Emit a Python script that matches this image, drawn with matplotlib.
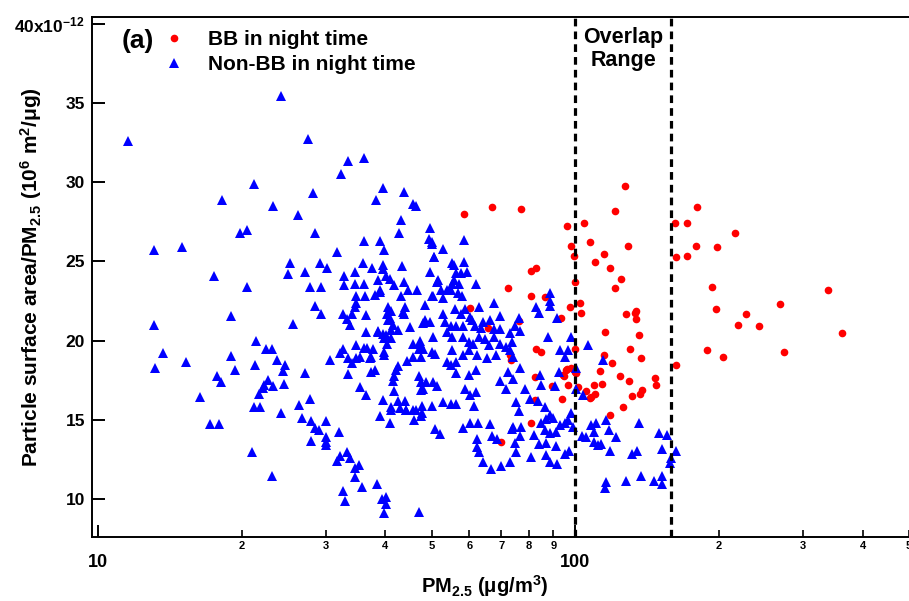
import matplotlib
matplotlib.use("Agg")
import matplotlib.pyplot as plt
from matplotlib.ticker import FixedLocator, FixedFormatter, FuncFormatter
from matplotlib.transforms import blended_transform_factory

plt.rcParams["font.family"] = ["Liberation Sans", "DejaVu Sans"]
plt.rcParams["font.weight"] = "bold"
plt.rcParams["axes.labelweight"] = "bold"
plt.rcParams["mathtext.fontset"] = "custom"
plt.rcParams["mathtext.rm"] = "Liberation Sans:bold"
plt.rcParams["mathtext.bf"] = "Liberation Sans:bold"
plt.rcParams["mathtext.default"] = "rm"

# BB in night time: PM2.5 (ug/m3), surface area / PM2.5 (x1e-12)
bb_pm = [58.4, 67.0, 76.9, 96.0, 104.1, 121.3, 127.3, 97.9, 99.3, 107.1, 114.6, 110.1,
         118.4, 128.9, 124.4, 121.3, 99.7, 162, 171.6, 179.7, 162.2, 171.3, 179.4, 197.6,
         216.2, 193.2, 338.6, 80.9, 82.8, 72.3, 80.9, 86.2, 102.5, 97.7, 133.8, 269, 197.2,
         228, 218.9, 242.2, 362, 188.6, 204.3, 273.4, 162.5, 127.9, 133.6, 134.2, 135.9,
         115.2, 130.4, 137.6, 114.8, 119.1, 112.5, 123.8, 129.3, 113.9, 109.4, 105.5, 110.1,
         108.0, 131.7, 136.5, 138.1, 147.1, 147.5, 125.6, 118.0, 102.9, 99.7, 100.1, 96.0,
         94.2, 96.5, 101.3, 93.9, 89.5, 84.9, 82.7, 82.3, 82.3, 80.9, 93.5, 76.2, 72.9, 73.5,
         65.7, 69.8, 60.3, 95.7, 98.0, 99.7, 94.6, 107.6]
bb_ratio = [28.0, 28.4, 28.3, 27.2, 27.45, 28.2, 29.75, 25.95, 25.35, 26.2, 25.45, 24.97,
            24.6, 25.95, 23.86, 23.3, 23.67, 27.4, 27.4, 28.4, 25.3, 25.35, 25.95, 25.88,
            26.76, 23.4, 23.19, 24.39, 24.6, 23.3, 22.8, 22.77, 22.4, 22.15, 21.9, 22.29, 21.97,
            21.68, 20.98, 20.9, 20.5, 19.39, 18.97, 19.28, 18.48, 21.68, 21.76, 21.36, 20.37,
            20.56, 19.47, 18.88, 19.09, 18.57, 18.08, 17.77, 17.47, 17.28, 17.2, 16.84, 16.63,
            16.43, 16.49, 16.65, 16.89, 17.62, 17.2, 15.8, 15.31, 21.76, 19.45, 17.98, 18.19,
            17.83, 17.2, 17.06, 16.3, 17.14, 19.26, 19.45, 17.69, 16.27, 14.79, 21.4, 21.23, 19.1, 18.8,
            20.77, 13.59, 22.04, 18.16, 18.27, 18.04, 17.78, 16.36]

# Non-BB in night time
nonbb_pm = [
    11.57, 24.2, 13.1, 15.0, 18.2, 21.2, 19.8, 20.5, 17.5, 20.5, 23.3, 27.6, 28.2, 26.2, 28.5,
    25.2, 25.0, 27.2, 27.8, 29.2, 30.2, 29.4, 32.3, 33.4, 36.1, 31.7, 36.1, 35.9, 37.6, 32.8,
    32.8, 34.6, 34.6, 36.1, 38.3, 39.6, 43.7, 45.7, 46.3, 43.1, 42.7, 38.9, 39.7, 39.6, 39.6,
    38.6, 38.9, 43.4, 40.2, 41.8, 43.8, 44.6, 46.6, 49.5, 49.4, 50.0, 52.8, 50.6, 49.5, 51.6,
    34.8, 36.2, 50.4, 53.9, 40.9, 38.1, 38.9, 40.6, 43.2,
    13.1, 13.2, 13.7, 15.3, 16.4, 17.2, 17.9, 17.8, 18.1, 19.0, 19.0, 19.4, 21.0, 21.3, 21.4,
    21.2, 21.9, 21.8, 22.2, 22.3, 22.5, 23.2, 23.7, 22.7, 23.3, 23.2, 24.2, 24.5, 24.4, 24.6,
    25.6, 26.4, 27.2, 27.8, 26.8, 27.9, 28.5, 29.0, 28.0, 30.0, 30.0, 30.0, 30.0, 28.5, 29.3,
    30.7, 32.0, 31.7, 32.2, 33.2, 33.7, 34.5, 35.2, 34.5, 35.7, 32.6, 33.0, 38.5, 39.3, 40.2,
    40.2, 39.8, 47.0, 32.6, 33.2, 33.7, 34.1, 34.5, 34.8, 36.5, 36.5, 32.6, 32.1, 33.4, 34.7,
    34.1, 36.1, 36.6, 37.4, 37.7, 33.4, 35.4, 36.5, 37.4, 38.1, 38.7, 39.6, 39.7, 38.9, 39.6,
    40.2, 40.7, 40.9, 41.2, 41.2, 41.6, 42.5, 40.9, 41.2, 41.5, 41.8, 42.1, 42.6, 42.5, 44.0,
    44.2, 45.9, 45.7, 43.6, 43.9, 45.0, 44.4, 45.7, 45.7, 47.0, 47.3, 47.4, 47.0, 47.5, 47.5,
    47.8, 47.7, 48.5, 47.9, 49.5, 50.4, 50.2, 50.9, 50.4, 51.3, 50.2, 50.8, 52.0, 52.8, 52.8,
    53.3, 53.9, 53.9,
    34.8, 35.4, 37.2, 38.6, 39.8, 40.4, 39.8, 41.8, 47.2, 47.9, 48.5, 48.7, 47.9, 41.2, 42.9,
    44.2, 46.4, 47.5, 40.4, 41.2, 43.8, 40.6,
    58.4, 55.6, 58.4, 56.3, 57.5, 59.2, 55.3, 57.2, 61.8, 56.7, 58.0, 88.7, 50.2, 50.6, 55.1,
    51.3, 55.7, 52.4, 54.8, 50.0, 52.8, 67.7, 88.3, 88.3,
    62.8, 55.9, 57.5, 58.8, 60.3, 60.9, 55.0, 56.3, 58.3, 61.5, 69.5, 64.0, 66.4, 63.5, 67.7,
    69.5, 72.9, 76.2, 74.7, 76.6, 84.1, 91.7, 55.1, 58.3, 59.9, 61.1, 62.9, 64.8, 66.1, 67.4,
    69.5, 71.6, 73.0, 73.7, 68.1, 65.4, 62.2, 59.9, 58.3, 55.1, 56.3, 74.0, 72.3, 76.7, 69.5,
    71.5, 74.1, 78.4, 75.3, 80.2, 83.7, 76.4, 86.2, 84.4, 84.7, 87.6, 92.8, 96.5, 95.0, 92.5,
    98.0, 100.1, 100.1, 90.6, 58.1, 60.3, 62.5, 66.4, 73.6, 74.1, 77.1, 67.0, 68.5, 62.3, 62.3,
    62.8, 64.0, 66.7, 69.9, 72.9, 74.6, 76.6, 75.3, 80.7, 81.9, 84.1, 87.0, 87.0, 88.3, 91.7,
    91.2, 95.2, 96.8, 84.9, 87.0, 88.3, 89.7, 92.8, 95.0, 96.5, 98.0, 98.8, 91.2, 88.3, 86.2,
    82.7, 55.0, 56.3, 58.8, 60.2, 61.8, 61.3, 55.0, 56.3, 59.9, 61.8,
    106.3, 114.3, 103.7, 108.0, 110.4, 116.2, 117.7, 109.3, 103.4, 105.1, 121.8, 109.7, 111.5,
    113.3, 118.4, 131.6, 134.6, 135.9, 149.8, 155.9, 152.1, 162.6, 159.0, 157.7, 116.2, 115.2,
    127.9, 137.6, 146.5, 152.1, 152.1,
]
nonbb_ratio = [
    32.6, 35.4, 25.7, 25.9, 28.9, 29.9, 26.8, 27.0, 24.1, 23.4, 28.5, 32.7, 29.3, 27.9, 26.8,
    24.9, 24.2, 24.3, 23.4, 24.9, 24.6, 23.4, 30.5, 31.3, 31.5, 25.6, 26.3, 24.9, 24.6, 24.1,
    23.5, 24.3, 23.6, 23.6, 28.9, 29.6, 29.4, 28.6, 28.5, 27.6, 26.8, 26.3, 25.7, 24.8, 24.55,
    23.8, 23.2, 24.7, 24.1, 23.5, 23.7, 23.2, 23.2, 27.1, 26.4, 26.1, 25.8, 25.3, 24.3, 23.8,
    22.8, 22.8, 22.8, 23.2, 23.9, 22.9, 23.1, 22.1, 22.8,
    21.0, 18.25, 19.2, 18.65, 16.45, 14.75, 14.75, 17.8, 17.4, 21.55, 19.05, 18.15, 13.0, 18.45, 19.95,
    15.8, 15.8, 16.65, 17.0, 17.2, 19.5, 19.5, 18.8, 17.5, 17.15, 11.45, 15.45, 17.25, 18.1, 18.45,
    21.05, 15.95, 17.95, 16.3, 15.1, 14.95, 14.5, 14.35, 13.65, 14.95, 13.95, 13.6, 13.4, 22.2, 21.7,
    18.8, 14.25, 12.4, 12.7, 13.0, 12.6, 11.95, 12.15, 11.4, 10.8, 10.55, 9.9, 10.95, 10.0, 10.15,
    9.7, 9.15, 9.2, 21.7, 21.35, 21.0, 21.7, 22.15, 22.4, 21.65, 20.55, 19.5, 19.2, 18.9, 19.75,
    18.6, 19.55, 19.55, 19.0, 19.45, 17.9, 17.05, 16.6, 18.05, 18.15, 20.6, 20.45, 19.3, 15.25, 16.25,
    20.35, 21.9, 21.4, 20.65, 20.2, 21.0, 20.7, 14.8, 15.6, 17.45, 16.8, 18.15, 18.4, 16.2, 16.2,
    15.6, 15.0, 15.6, 21.8, 22.1, 20.85, 18.7, 19.0, 19.8, 19.5, 19.95, 19.0, 17.75, 17.4, 16.9,
    15.9, 15.45, 22.25, 21.1, 21.2, 20.25, 19.3, 19.15, 17.4, 17.15, 15.85, 14.45, 14.1, 16.15, 21.7,
    21.2, 20.55, 18.65,
    18.93, 19.0, 18.93, 20.55, 20.15, 19.8, 19.09, 17.75, 19.83, 19.5, 21.3, 17.4, 16.93, 15.84, 15.74,
    15.64, 15.64, 15.26, 21.7, 21.9, 21.7, 21.3,
    26.34, 24.8, 24.93, 24.25, 24.25, 24.3, 23.6, 23.6, 23.55, 22.98, 22.8, 22.98, 26.2, 25.3, 24.87,
    23.7, 23.8, 23.2, 23.2, 22.8, 22.7, 22.4, 22.5, 22.2,
    22.14, 22.0, 21.7, 22.0, 21.5, 21.3, 20.95, 20.9, 20.95, 20.9, 21.55, 21.19, 21.3, 20.77, 20.75,
    20.75, 20.46, 21.46, 20.9, 20.6, 21.72, 21.46, 20.26, 20.26, 19.93, 19.8, 20.26, 20.1, 19.7, 20.26,
    19.8, 19.6, 19.41, 19.93, 19.09, 18.88, 19.09, 19.41, 19.09, 19.41, 18.67, 19.0, 18.04, 18.25, 17.45,
    16.93, 17.56, 16.93, 16.15, 16.3, 16.21, 15.56, 15.8, 17.83, 17.2, 20.25, 19.41, 19.41, 18.99, 18.04,
    20.25, 18.25, 16.93, 17.14, 14.47, 14.79, 14.83, 14.75, 14.4, 14.57, 14.57, 13.99, 13.78, 13.78, 13.31,
    13.0, 12.37, 11.89, 12.1, 12.37, 13.57, 13.99, 13.0, 12.68, 14.05, 13.48, 13.57, 12.79, 12.37, 12.2,
    13.35, 12.85, 13.06, 14.79, 15.04, 15.31, 15.1, 14.67, 14.83, 15.0, 15.42, 14.57, 14.26, 14.16, 14.37,
    22.14, 18.47, 17.94, 16.93, 16.57, 16.78, 15.88, 16.0, 16.0, 17.83, 18.15,
    19.73, 18.78, 16.57, 14.68, 14.79, 15.0, 14.37, 14.26, 14.0, 13.95, 13.91, 13.63, 13.42,
    13.48, 13.06, 12.85, 13.06, 14.79, 14.16, 14.05, 13.15, 13.04, 12.58, 12.27, 11.11, 10.69,
    11.15, 11.49, 11.15, 11.49, 10.96,
]

overlap_bounds = [100, 159]
minor_ticks = [20, 30, 40, 50, 60, 70, 80, 90, 200, 300, 400, 500]
minor_labels = ["2", "3", "4", "5", "6", "7", "8", "9", "2", "3", "4", "5"]
y_ticks = [10, 15, 20, 25, 30, 35, 40]

fig = plt.figure(figsize=(9.09, 6.01), dpi=100)
ax = fig.add_axes([92 / 909, 64 / 601, 817 / 909, 520 / 601])

ax.plot(nonbb_pm, nonbb_ratio, linestyle="none", marker="^", markersize=7,
        color="#0000ff", markeredgewidth=0, label="Non-BB in night time", zorder=3)
ax.plot(bb_pm, bb_ratio, linestyle="none", marker="o", markersize=5.5,
        color="#ff0000", markeredgewidth=0, label="BB in night time", zorder=2)

for xv in overlap_bounds:
    ax.axvline(xv, color="black", linewidth=2.3, linestyle=(0, (2.4, 1.6)), zorder=4)

ax.set_xscale("log")
ax.set_xlim(9.72, 500)
ax.set_ylim(7.62, 40.41)

ax.xaxis.set_major_locator(FixedLocator([10, 100]))
ax.xaxis.set_major_formatter(FixedFormatter(["10", "100"]))
ax.xaxis.set_minor_locator(FixedLocator(minor_ticks))
ax.xaxis.set_minor_formatter(FixedFormatter(minor_labels))
ax.tick_params(axis="x", which="major", direction="in", length=9, width=1.4,
               pad=12, labelsize=13)
ax.tick_params(axis="x", which="minor", direction="in", length=5, width=1.2,
               pad=3, labelsize=8)

ax.yaxis.set_major_locator(FixedLocator(y_ticks))
ax.yaxis.set_major_formatter(FuncFormatter(
    lambda v, p: "40x10$^{-12}$" if v == 40 else f"{v:g}"))
ax.tick_params(axis="y", which="major", direction="in", length=9, width=1.4,
               pad=5, labelsize=12.5)
ax.yaxis.set_minor_locator(FixedLocator([]))

for side in ["left", "bottom", "top"]:
    ax.spines[side].set_linewidth(1.4)
ax.spines["right"].set_visible(False)

ax.set_xlabel("PM$_{2.5}$ (μg/m$^{3}$)", fontsize=14.5)
ax.xaxis.set_label_coords((485 - 92) / 817, -(573 - 537) / 520)
ax.set_ylabel("Particle surface area/PM$_{2.5}$ (10$^{6}$ m$^{2}$/μg)", fontsize=15)
ax.yaxis.set_label_coords(-(92 - 44) / 817, 0.5)

handles, labels = ax.get_legend_handles_labels()
ax.legend(handles[::-1], labels[::-1], loc="upper left", frameon=False,
          bbox_to_anchor=(166 / 909, 1 - 30 / 601), bbox_transform=fig.transFigure,
          fontsize=15, handlelength=0.8, handletextpad=1.2, labelspacing=0.3,
          borderpad=0, borderaxespad=0)

fig.text(122 / 909, 1 - 41 / 601, "(a)", fontsize=19, va="center", ha="left")

trans = blended_transform_factory(ax.transData, ax.transAxes)
ax.text((overlap_bounds[0] * overlap_bounds[1]) ** 0.5, 0.938, "Overlap\nRange",
        transform=trans, ha="center", va="center", fontsize=15.5, linespacing=1.15)

fig.savefig("out.png", dpi=100)
